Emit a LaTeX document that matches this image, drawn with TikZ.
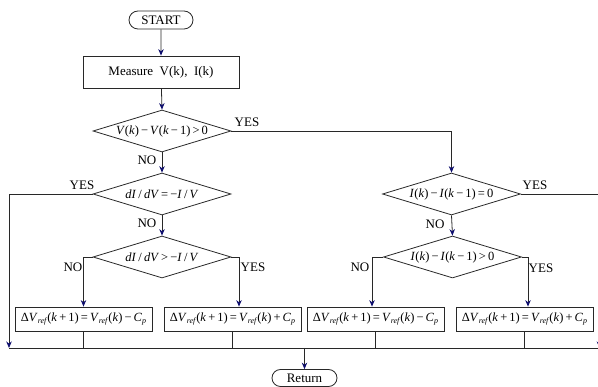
\documentclass[tikz,border=0pt]{standalone}
\usepackage{fontspec}
\setmainfont{Liberation Serif}
\usetikzlibrary{shapes.geometric,shapes.misc,arrows.meta}
\definecolor{arrblue}{RGB}{15,15,110}
\definecolor{linec}{RGB}{40,40,40}
\newcommand{\mi}[1]{\textit{#1}}
\newcommand{\sbs}[1]{\raisebox{-0.5ex}{\fontsize{8}{8}\selectfont\textit{#1}}}
\begin{document}
\begin{tikzpicture}[x=1pt,y=-1pt,
  every node/.style={font=\fontsize{13}{14}\selectfont},
  mathtxt/.style={inner sep=0pt,font=\fontsize{12.5}{13}\selectfont},
  conn/.style={draw=linec,line width=0.8pt},
  arr/.style={conn,-{Stealth[length=6.5pt,width=5.5pt,color=arrblue]}},
  term/.style={rounded rectangle,draw=linec,line width=0.8pt,inner sep=0pt},
  procbox/.style={rectangle,draw=linec,line width=0.8pt,inner sep=0pt,minimum width=137pt,minimum height=24pt,font=\fontsize{12.5}{13}\selectfont},
  dia/.style={diamond,draw=linec,line width=0.8pt,inner sep=0pt,minimum width=138pt,minimum height=42pt},
  lbl/.style={inner sep=0pt}]
\useasboundingbox (0,0) rectangle (598,387);
% terminals and boxes
\node[term,minimum width=64pt,minimum height=18pt] (start) at (161,20) {START};
\node[rectangle,draw=linec,line width=0.8pt,minimum width=156pt,minimum height=32pt] (meas) at (161,72) {Measure\ \ V(k),\ \ I(k)};
\node[dia] (d1) at (162,131) {};
\node[dia] (d2) at (162,194) {};
\node[dia] (d3) at (162,257) {};
\node[dia] (d4) at (451.5,194) {};
\node[dia] (d5) at (452.5,257) {};
\node[mathtxt] (t1) at (d1) {\mi{V}(\mi{k})\,−\,\mi{V}(\mi{k}\,−\,1)\,>\,0};
\node[mathtxt] (t2) at (d2) {\mi{dI}\,/\,\mi{dV}\,=\,−\mi{I}\,/\,\mi{V}};
\node[mathtxt] (t3) at (d3) {\mi{dI}\,/\,\mi{dV}\,>\,−\mi{I}\,/\,\mi{V}};
\node[mathtxt] (t4) at (d4) {\mi{I}(\mi{k})\,−\,\mi{I}(\mi{k}\,−\,1)\,=\,0};
\node[mathtxt] (t5) at (d5) {\mi{I}(\mi{k})\,−\,\mi{I}(\mi{k}\,−\,1)\,>\,0};
\node[procbox] (b1) at (83.5,319) {Δ\mi{V}\sbs{ref}(\mi{k}\,+\,1)\,=\,\mi{V}\sbs{ref}(\mi{k})\,−\,\mi{C}\sbs{p}};
\node[procbox] (b2) at (232.5,319) {Δ\mi{V}\sbs{ref}(\mi{k}\,+\,1)\,=\,\mi{V}\sbs{ref}(\mi{k})\,+\,\mi{C}\sbs{p}};
\node[procbox] (b3) at (375.5,319) {Δ\mi{V}\sbs{ref}(\mi{k}\,+\,1)\,=\,\mi{V}\sbs{ref}(\mi{k})\,−\,\mi{C}\sbs{p}};
\node[procbox] (b4) at (524.5,319) {Δ\mi{V}\sbs{ref}(\mi{k}\,+\,1)\,=\,\mi{V}\sbs{ref}(\mi{k})\,+\,\mi{C}\sbs{p}};
\node[term,minimum width=65pt,minimum height=17pt] (ret) at (304.5,378) {Return};
% merge line
\coordinate (mL) at (9,348);
\coordinate (mR) at (599.5,348);
% connectors
\draw[arr] (start) -- (meas);
\draw[arr] (meas) -- (d1.north);
\draw[arr] (d1.east) -| (d4.north);
\draw[arr] (d1.south) -- (d2.north);
\draw[arr] (d2.west) -| (mL);
\draw[arr] (d2.south) -- (d3.north);
\draw[arr] (d3.west) -| (b1.north);
\draw[arr] (d3.east) -| ([xshift=6.5pt]b2.north);
\draw[arr] (d4.east) -| (mR);
\draw[arr] (d4.south) -- (d5.north);
\draw[arr] (d5.west) -| ([xshift=-3.5pt]b3.north);
\draw[arr] (d5.east) -| ([xshift=3.5pt]b4.north);
\draw[conn] (mL) -- (mR);
\draw[conn] (b1.south) -- (b1.south |- mL);
\draw[conn] (b2.south) -- (b2.south |- mL);
\draw[conn] (b3.south) -- (b3.south |- mL);
\draw[conn] (b4.south) -- (b4.south |- mL);
\draw[arr] (ret.north |- mL) -- (ret.north);
% labels
\node[lbl] (y1) at (247,122) {YES};
\node[lbl] (n1) at (147,160) {NO};
\node[lbl] (y2) at (82,185) {YES};
\node[lbl] (n2) at (147,223) {NO};
\node[lbl] (n3) at (73,267) {NO};
\node[lbl] (y3) at (253,267) {YES};
\node[lbl] (y4) at (535,185) {YES};
\node[lbl] (n4) at (435,224) {NO};
\node[lbl] (n5) at (360,267) {NO};
\node[lbl] (y5) at (541,268) {YES};
\end{tikzpicture}
\end{document}
